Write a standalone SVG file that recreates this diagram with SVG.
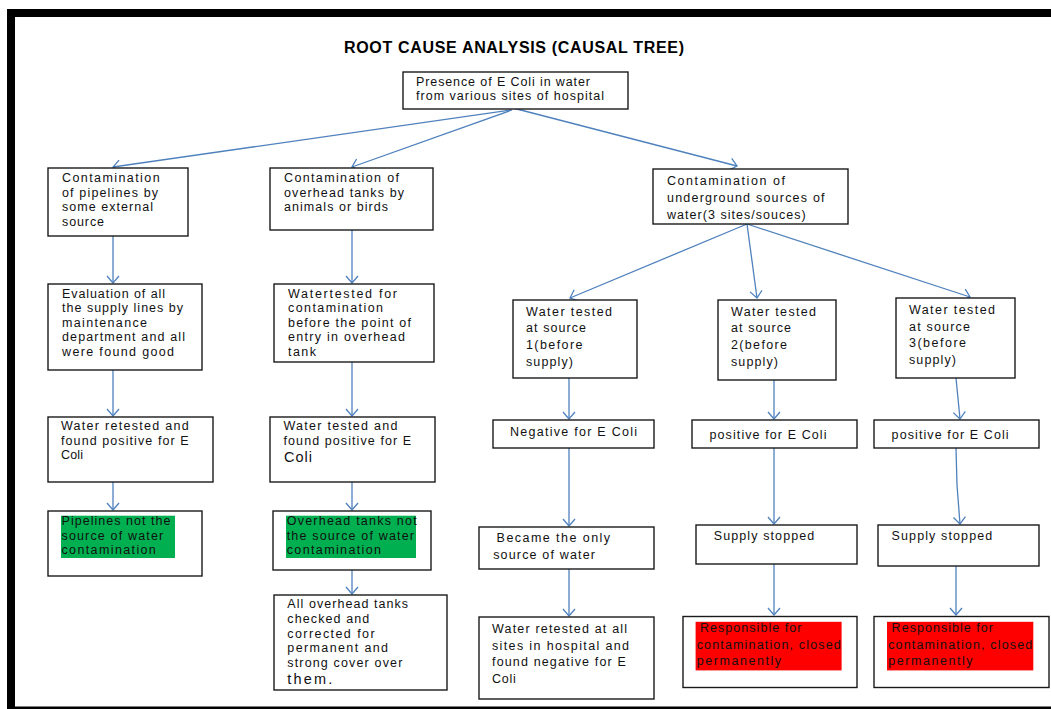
<svg xmlns="http://www.w3.org/2000/svg" width="1051" height="709" viewBox="0 0 1051 709">
<style>
.box{fill:#fff;stroke:#1a1a1a;stroke-width:1.4}
.t{font-family:"Liberation Sans",Arial,sans-serif;font-size:12.5px;fill:#111}
.big{font-size:14.5px}
.c{fill:none;stroke:#4f81bd;stroke-width:1.3;marker-end:url(#ah)}
.g{fill:#00b050}
.r{fill:#ff0000}
</style>
<defs>
<marker id="ah" viewBox="-8 -7 9 14" refX="0" refY="0" markerWidth="9" markerHeight="14" markerUnits="userSpaceOnUse" orient="auto">
<path d="M-7,-6 L0,0 L-7,6" fill="none" stroke="#4f81bd" stroke-width="1.3"/>
</marker>
</defs>
<rect x="0" y="0" width="1051" height="709" fill="#fff"/>
<g id="frame">
<rect x="7" y="9" width="1044" height="8" fill="#000"/>
<rect x="7" y="9" width="8" height="700" fill="#000"/>
<rect x="7" y="706.5" width="1044" height="2.5" fill="#000"/>
</g>
<text id="title" x="344" y="53" textLength="340" style="font-family:'Liberation Sans',Arial,sans-serif;font-size:16px;font-weight:bold;fill:#000">ROOT CAUSE ANALYSIS (CAUSAL TREE)</text>

<g id="connectors">
<line class="c" x1="511" y1="110" x2="113" y2="167"/>
<line class="c" x1="512" y1="110" x2="352" y2="167"/>
<line class="c" x1="513" y1="108" x2="737" y2="166"/>
<line class="c" x1="113" y1="236" x2="113" y2="283"/>
<line class="c" x1="352" y1="230" x2="352" y2="283"/>
<line class="c" x1="113" y1="370" x2="113" y2="416"/>
<line class="c" x1="352" y1="362" x2="352" y2="416"/>
<line class="c" x1="113" y1="482" x2="113" y2="510"/>
<line class="c" x1="352" y1="482" x2="352" y2="510"/>
<line class="c" x1="352" y1="570" x2="352" y2="594"/>
<line class="c" x1="747" y1="224" x2="570" y2="298"/>
<line class="c" x1="747" y1="224" x2="757" y2="298"/>
<line class="c" x1="747" y1="224" x2="970" y2="297"/>
<line class="c" x1="569" y1="378" x2="569" y2="419"/>
<line class="c" x1="774" y1="380" x2="774" y2="419"/>
<line class="c" x1="956" y1="378" x2="960" y2="419"/>
<line class="c" x1="569" y1="448" x2="569" y2="526"/>
<line class="c" x1="774" y1="448" x2="774" y2="524"/>
<polyline class="c" points="956,448 957,485 960,524"/>
<line class="c" x1="569" y1="569" x2="569" y2="616"/>
<line class="c" x1="774" y1="564" x2="774" y2="615"/>
<line class="c" x1="956" y1="566" x2="956" y2="615"/>
</g>

<g id="root">
<rect class="box" x="403" y="72" width="225" height="37"/>
<text class="t" x="416" y="86" textLength="174">Presence of E Coli in water</text>
<text class="t" x="416" y="100" textLength="188">from various sites of hospital</text>
</g>

<g id="n1">
<rect class="box" x="48" y="168" width="140" height="68"/>
<text class="t" x="62" y="182" textLength="97.6">Contamination</text>
<text class="t" x="62" y="196.7" textLength="96">of pipelines by</text>
<text class="t" x="62" y="211.3" textLength="91">some external</text>
<text class="t" x="62" y="226" textLength="42">source</text>
</g>

<g id="n2">
<rect class="box" x="270" y="168" width="163" height="62"/>
<text class="t" x="284" y="182" textLength="115">Contamination of</text>
<text class="t" x="284" y="196.7" textLength="120">overhead tanks by</text>
<text class="t" x="284" y="211.3" textLength="104">animals or birds</text>
</g>

<g id="n3">
<rect class="box" x="653" y="169" width="195" height="55"/>
<text class="t" x="667" y="185.3" textLength="118">Contamination of</text>
<text class="t" x="667" y="201.9" textLength="157.6">underground sources of</text>
<text class="t" x="667" y="218.5" textLength="138.7">water(3 sites/souces)</text>
</g>

<g id="n1b">
<rect class="box" x="48" y="284" width="154" height="86"/>
<text class="t" x="62" y="297.5" textLength="103">Evaluation of all</text>
<text class="t" x="62" y="312" textLength="121">the supply lines by</text>
<text class="t" x="62" y="326.7" textLength="85">maintenance</text>
<text class="t" x="62" y="341.3" textLength="123">department and all</text>
<text class="t" x="62" y="356" textLength="112">were found good</text>
</g>

<g id="n2b">
<rect class="box" x="274" y="284" width="160" height="78"/>
<text class="t" x="288" y="297.5" textLength="109">Watertested for</text>
<text class="t" x="288" y="312" textLength="95">contamination</text>
<text class="t" x="288" y="326.7" textLength="123">before the point of</text>
<text class="t" x="288" y="341.3" textLength="117">entry in overhead</text>
<text class="t" x="288" y="356" textLength="28">tank</text>
</g>

<g id="s1">
<rect class="box" x="513" y="300" width="124" height="78"/>
<text class="t" x="526" y="315.7" textLength="86">Water tested</text>
<text class="t" x="526" y="332.3" textLength="60">at source</text>
<text class="t" x="526" y="348.9" textLength="56.5">1(before</text>
<text class="t" x="526" y="365.5" textLength="47">supply)</text>
</g>

<g id="s2">
<rect class="box" x="718" y="300" width="118" height="80"/>
<text class="t" x="731" y="315.7" textLength="85">Water tested</text>
<text class="t" x="731" y="332.3" textLength="60">at source</text>
<text class="t" x="731" y="348.9" textLength="56">2(before</text>
<text class="t" x="731" y="365.5" textLength="47">supply)</text>
</g>

<g id="s3">
<rect class="box" x="896" y="298" width="119" height="80"/>
<text class="t" x="909" y="314" textLength="86">Water tested</text>
<text class="t" x="909" y="330.6" textLength="61">at source</text>
<text class="t" x="909" y="347.2" textLength="57">3(before</text>
<text class="t" x="909" y="363.8" textLength="47">supply)</text>
</g>

<g id="n1c">
<rect class="box" x="48" y="417" width="165" height="65"/>
<text class="t" x="61" y="430" textLength="127.7">Water retested and</text>
<text class="t" x="61" y="444.7" textLength="127.7">found positive for E</text>
<text class="t" x="61" y="459.3" textLength="22">Coli</text>
</g>

<g id="n2c">
<rect class="box" x="270" y="417" width="165" height="65"/>
<text class="t" x="283.5" y="430" textLength="114">Water tested and</text>
<text class="t" x="283.5" y="444.7" textLength="127.7">found positive for E</text>
<text class="t big" x="284" y="462.3" textLength="28">Coli</text>
</g>

<g id="neg1">
<rect class="box" x="493" y="420" width="161" height="28"/>
<text class="t" x="510" y="436" textLength="127">Negative for E Coli</text>
</g>

<g id="pos2">
<rect class="box" x="692" y="420" width="165" height="28"/>
<text class="t" x="709.5" y="439" textLength="117">positive for E Coli</text>
</g>

<g id="pos3">
<rect class="box" x="874" y="420" width="165" height="28"/>
<text class="t" x="891.6" y="439" textLength="117">positive for E Coli</text>
</g>

<g id="n1d">
<rect class="box" x="48" y="511" width="154" height="65"/>
<rect class="g" x="61" y="515.7" width="114" height="42.3"/>
<text class="t" x="61.5" y="525" textLength="109">Pipelines not the</text>
<text class="t" x="61.5" y="539.7" textLength="101.7">source of water</text>
<text class="t" x="61.5" y="554.3" textLength="94.3">contamination</text>
</g>

<g id="n2d">
<rect class="box" x="273" y="511" width="158" height="59"/>
<rect class="g" x="286" y="515.7" width="130" height="42.3"/>
<text class="t" x="286.7" y="525" textLength="130">Overhead tanks not</text>
<text class="t" x="286.7" y="539.7" textLength="127.3">the source of water</text>
<text class="t" x="286.7" y="554.3" textLength="94.3">contamination</text>
</g>

<g id="n2e">
<rect class="box" x="274" y="595" width="173" height="95"/>
<text class="t" x="287.3" y="608.3" textLength="120.7">All overhead tanks</text>
<text class="t" x="287.3" y="623" textLength="82">checked and</text>
<text class="t" x="287.3" y="637.7" textLength="87.3">corrected for</text>
<text class="t" x="287.3" y="652.3" textLength="100.7">permanent and</text>
<text class="t" x="287.3" y="667" textLength="115">strong cover over</text>
<text class="t big" x="287.3" y="684" textLength="45">them.</text>
</g>

<g id="became">
<rect class="box" x="479" y="527" width="175" height="42"/>
<text class="t" x="496.6" y="542" textLength="113.5">Became the only</text>
<text class="t" x="493.2" y="558.5" textLength="101.8">source of water</text>
</g>

<g id="sup2">
<rect class="box" x="696" y="525" width="161" height="39"/>
<text class="t" x="713.7" y="540" textLength="100.6">Supply stopped</text>
</g>

<g id="sup3">
<rect class="box" x="878" y="525" width="161" height="41"/>
<text class="t" x="891.6" y="540" textLength="100.6">Supply stopped</text>
</g>

<g id="retest">
<rect class="box" x="479" y="617" width="175" height="82"/>
<text class="t" x="492" y="633" textLength="135">Water retested at all</text>
<text class="t" x="492" y="649.6" textLength="137">sites in hospital and</text>
<text class="t" x="492" y="666.2" textLength="133.8">found negative for E</text>
<text class="t" x="492" y="682.8" textLength="23.7">Coli</text>
</g>

<g id="resp2">
<rect class="box" x="683" y="616.5" width="174" height="71"/>
<rect class="r" x="695.6" y="621.8" width="146" height="48.6"/>
<text class="t" x="700" y="632" textLength="101.4">Responsible for</text>
<text class="t" x="696.7" y="648.6" textLength="144">contamination, closed</text>
<text class="t" x="696.7" y="665.2" textLength="84.4">permanently</text>
</g>

<g id="resp3">
<rect class="box" x="874" y="616.5" width="175" height="71"/>
<rect class="r" x="887" y="621.8" width="146.3" height="48.6"/>
<text class="t" x="891.6" y="632" textLength="101.4">Responsible for</text>
<text class="t" x="888.2" y="648.6" textLength="144">contamination, closed</text>
<text class="t" x="888.2" y="665.2" textLength="84.4">permanently</text>
</g>
</svg>
